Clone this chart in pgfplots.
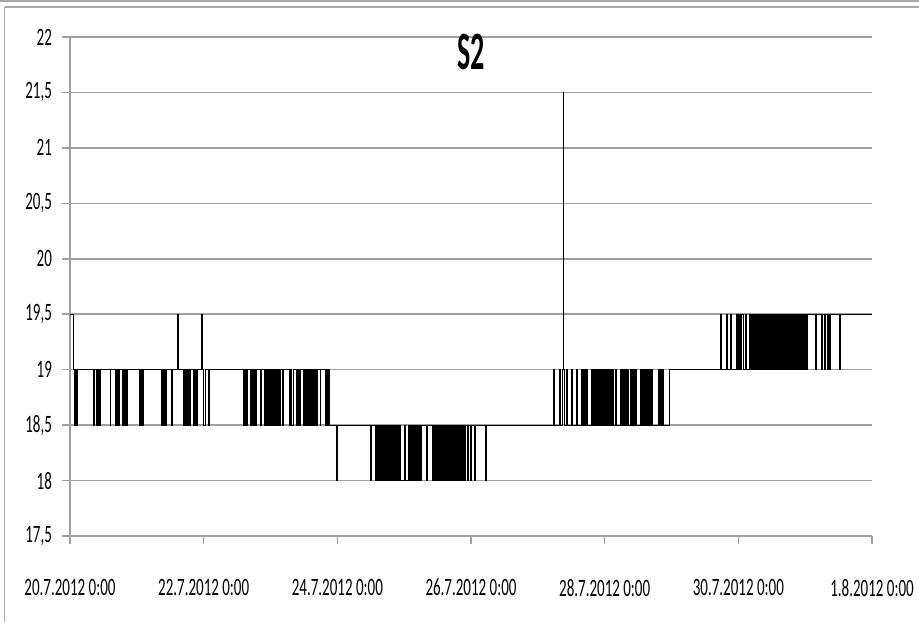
\documentclass[border=0pt]{standalone}
\usepackage{pgfplots}
\pgfplotsset{compat=1.18}
\usepackage{fontspec}
\setmainfont[FakeStretch=0.6]{Carlito}
\newfontfamily\titlefont[FakeStretch=0.52]{Carlito}
\definecolor{gridgray}{HTML}{A0A0A0}
\definecolor{framegray}{HTML}{A8A8A8}
\begin{document}
\begin{tikzpicture}
\useasboundingbox (0,0) rectangle (459.5pt,311pt);
\draw[framegray, line width=1.3pt] (0,310.4pt) -- (459.5pt,310.4pt);
\draw[framegray, line width=0.8pt] (2.25pt,307.5pt) -- (459.5pt,307.5pt);
\draw[framegray, line width=0.8pt] (2.25pt,0) -- (2.25pt,307.5pt);
\begin{axis}[
  at={(35pt,43pt)}, anchor=south west,
  scale only axis, width=401pt, height=249.5pt,
  xmin=0, xmax=288, ymin=17.5, ymax=22,
  axis lines=left, axis line style={gridgray, line width=0.8pt, -},
  tick style={gridgray, line width=0.8pt},
  tick align=outside, major tick length=4pt,
  xtick={0,48,96,144,192,240,288},
  xticklabels={20.7.2012 0:00,22.7.2012 0:00,24.7.2012 0:00,26.7.2012 0:00,28.7.2012 0:00,30.7.2012 0:00,1.8.2012 0:00},
  ytick={17.5,18,18.5,19,19.5,20,20.5,21,21.5,22},
  yticklabels={{17,5},18,{18,5},19,{19,5},20,{20,5},21,{21,5},22},
  ymajorgrids, grid style={gridgray, line width=0.8pt},
  ticklabel style={font=\fontsize{12.5}{14}\selectfont, text=black},
  xticklabel style={yshift=-14pt},
  yticklabel style={xshift=-1.5pt},
  title={\titlefont\bfseries S2},
  title style={at={(axis description cs:0.5,1)}, anchor=north, yshift=-1pt, font=\fontsize{27}{30}\selectfont},
  clip=false,
]
\addplot[const plot, black, line width=0.55pt] coordinates {
(0,19.5) (1.4,19) (1.8,18.5) (2.5,19) (8.3,18.5) (8.9,19) (9.7,18.5) (10.1,19) (10.5,18.5) (11.1,19)
(14.4,18.5) (14.7,19) (16.2,18.5) (16.6,19) (17.2,18.5) (17.6,19) (18.7,18.5) (19.0,19) (19.4,18.5) (19.8,19)
(20.2,18.5) (20.8,19) (24.8,18.5) (25.2,19) (25.5,18.5) (26.2,19) (32.7,18.5) (33.1,19) (33.4,18.5) (33.8,19)
(34.1,18.5) (34.8,19) (36.6,18.5) (36.9,19) (38.8,19.5) (39.1,19) (40.6,18.5) (41.0,19) (41.3,18.5) (41.6,19)
(42.0,18.5) (42.3,19) (42.7,18.5) (43.1,19) (44.2,18.5) (44.6,19) (44.9,18.5) (45.6,19) (47.4,19.5) (47.7,19)
(47.9,18.5) (48.5,19) (49.6,18.5) (49.9,19)
(62.3,18.5) (62.6,19) (62.9,18.5) (63.2,19) (63.5,18.5) (63.8,19) (64.9,18.5) (65.2,19) (65.6,18.5) (65.9,19)
(66.2,18.5) (66.5,19) (66.8,18.5) (67.1,19) (68.3,18.5) (68.6,19) (69.7,18.5) (70.0,19) (70.3,18.5) (70.6,19)
(70.9,18.5) (71.2,19) (71.5,18.5) (71.8,19) (72.1,18.5) (72.4,19) (72.7,18.5) (73.0,19) (73.3,18.5) (73.6,19)
(73.9,18.5) (74.2,19) (74.5,18.5) (74.8,19) (75.1,18.5) (75.5,19) (76.5,18.5) (76.8,19) (79.0,18.5) (79.3,19)
(79.7,18.5) (80.1,19) (81.5,18.5) (81.8,19) (82.2,18.5) (82.6,19) (83.7,18.5) (84.0,19) (84.3,18.5) (84.6,19)
(84.9,18.5) (85.2,19) (85.5,18.5) (85.8,19) (86.1,18.5) (86.4,19) (86.7,18.5) (87.0,19) (87.3,18.5) (87.6,19)
(87.9,18.5) (88.2,19) (88.5,18.5) (88.8,19) (89.8,18.5) (90.1,19) (91.6,18.5) (91.9,19) (92.3,18.5) (92.7,19)
(93.0,18.5) (95.6,18) (95.9,18.5)
(108.0,18) (108.3,18.5) (109.6,18) (109.9,18.5) (110.2,18) (110.5,18.5) (110.9,18) (111.2,18.5) (111.5,18) (111.8,18.5)
(112.2,18) (112.5,18.5) (112.8,18) (113.1,18.5) (113.4,18) (113.8,18.5) (114.1,18) (114.4,18.5) (114.7,18) (115.0,18.5)
(115.3,18) (115.7,18.5) (116.0,18) (116.3,18.5) (116.6,18) (116.9,18.5) (117.3,18) (117.6,18.5) (117.9,18) (118.2,18.5)
(118.6,18) (120.2,18.5) (120.5,18) (121.6,18.5) (121.9,18) (122.2,18.5) (122.5,18) (122.9,18.5) (123.2,18) (123.5,18.5)
(123.8,18) (124.1,18.5) (124.5,18) (124.8,18.5) (125.1,18) (125.4,18.5) (125.8,18) (126.1,18.5) (128.0,18) (128.3,18.5)
(130.1,18) (130.4,18.5) (130.7,18) (131.0,18.5) (131.4,18) (131.7,18.5) (132.0,18) (132.3,18.5) (132.6,18) (133.0,18.5)
(133.3,18) (133.6,18.5) (133.9,18) (134.3,18.5) (134.6,18) (134.9,18.5) (135.2,18) (135.6,18.5) (135.9,18) (136.2,18.5)
(136.5,18) (136.8,18.5) (137.2,18) (137.5,18.5) (137.8,18) (138.1,18.5) (138.5,18) (138.8,18.5) (139.1,18) (139.4,18.5)
(139.8,18) (140.1,18.5) (140.4,18) (140.7,18.5) (141.1,18) (141.4,18.5) (141.8,18) (142.1,18.5) (142.6,18) (143.0,18.5)
(143.7,18) (144.0,18.5) (145.2,18) (145.5,18.5) (149.4,18) (149.7,18.5)
(173.5,19) (173.8,18.5) (175.7,19) (176.0,18.5) (176.8,19) (177.1,21.5) (177.3,19) (177.6,18.5) (178.2,19) (178.5,18.5)
(180.0,19) (180.3,18.5) (181.8,19) (182.1,18.5) (183.6,19) (183.9,18.5) (184.2,19) (184.5,18.5) (184.8,19) (185.1,18.5)
(185.4,19) (185.8,18.5) (187.2,19) (187.5,18.5) (187.8,19) (188.1,18.5) (188.5,19) (188.8,18.5) (189.1,19) (189.4,18.5)
(189.7,19) (190.1,18.5) (190.4,19) (190.7,18.5) (191.0,19) (191.4,18.5) (191.7,19) (192.0,18.5) (192.3,19) (192.7,18.5)
(193.0,19) (193.3,18.5) (193.6,19) (194.0,18.5) (194.3,19) (194.6,18.5) (194.9,19) (195.3,18.5) (195.8,19) (196.1,18.5)
(197.6,19) (197.9,18.5) (198.2,19) (198.5,18.5) (198.9,19) (199.2,18.5) (199.5,19) (199.8,18.5) (200.1,19) (200.4,18.5)
(201.2,19) (201.5,18.5) (201.9,19) (202.2,18.5) (202.5,19) (202.8,18.5) (203.2,19) (203.5,18.5) (204.8,19) (205.1,18.5)
(205.4,19) (205.8,18.5) (206.1,19) (206.4,18.5) (206.7,19) (207.1,18.5) (207.4,19) (207.7,18.5) (208.0,19) (208.4,18.5)
(208.7,19) (209.1,18.5) (211.3,19) (211.6,18.5) (211.9,19) (212.3,18.5) (212.7,19) (213.0,18.5) (215.2,19)
(233.5,19.5) (233.8,19) (235.7,19.5) (236.0,19) (237.1,19.5) (237.4,19) (239.3,19.5) (239.6,19) (239.9,19.5) (240.3,19)
(240.6,19.5) (240.9,19) (241.2,19.5) (241.8,19) (242.5,19.5) (242.8,19) (244.0,19.5) (244.3,19) (244.6,19.5) (244.9,19)
(245.3,19.5) (245.6,19) (245.9,19.5) (246.2,19) (246.6,19.5) (246.9,19) (247.2,19.5) (247.5,19) (247.9,19.5) (248.2,19)
(248.5,19.5) (248.8,19) (249.2,19.5) (249.5,19) (249.8,19.5) (250.1,19) (250.5,19.5) (250.8,19) (251.1,19.5) (251.4,19)
(251.8,19.5) (252.1,19) (252.4,19.5) (252.7,19) (253.1,19.5) (253.4,19) (253.7,19.5) (254.0,19) (254.4,19.5) (254.7,19)
(255.0,19.5) (255.3,19) (255.7,19.5) (256.0,19) (256.3,19.5) (256.6,19) (257.0,19.5) (257.3,19) (257.6,19.5) (257.9,19)
(258.3,19.5) (258.6,19) (258.9,19.5) (259.2,19) (259.6,19.5) (259.9,19) (260.2,19.5) (260.5,19) (260.9,19.5) (261.2,19)
(261.5,19.5) (261.8,19) (262.2,19.5) (262.5,19) (262.8,19.5) (263.1,19) (263.5,19.5) (263.8,19) (264.1,19.5) (264.4,19)
(264.8,19.5) (267.7,19) (268.0,19.5) (269.8,19) (270.1,19.5) (270.9,19) (271.2,19.5) (272.0,19) (272.3,19.5) (272.7,19)
(273.0,19.5) (276.3,19) (276.6,19.5) (288,19.5)
};
\end{axis}
\end{tikzpicture}
\end{document}
